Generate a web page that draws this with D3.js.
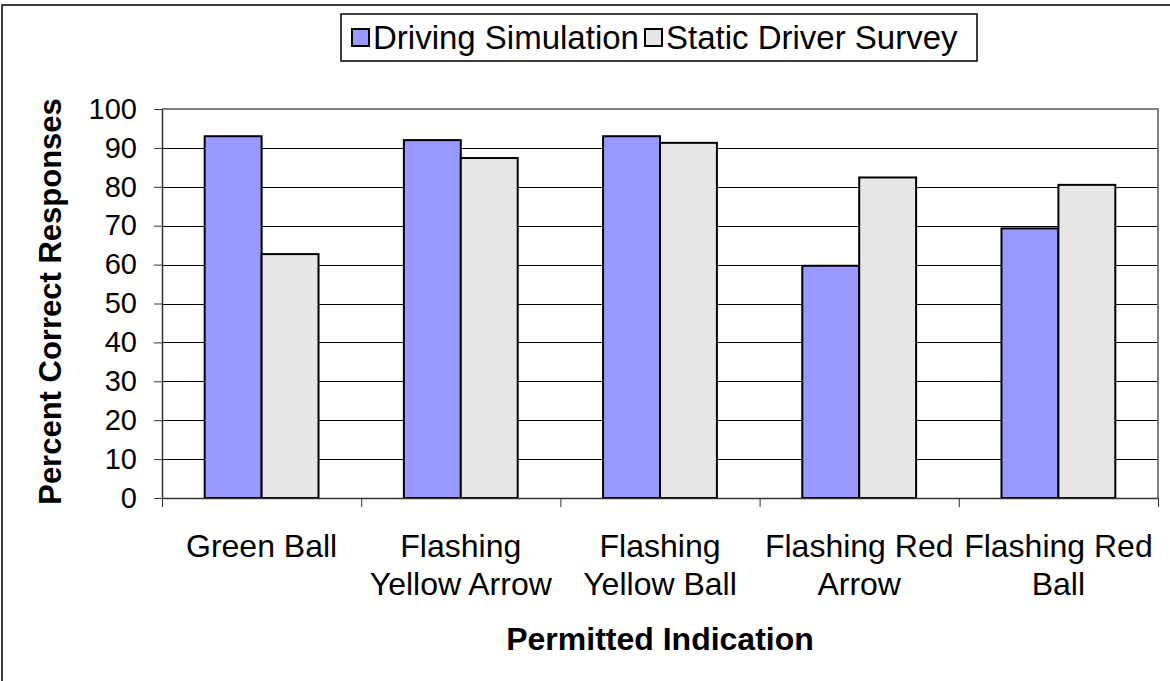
<!DOCTYPE html>
<html>
<head>
<meta charset="utf-8">
<script src="https://cdn.jsdelivr.net/npm/d3@7"></script>
<style>
  html, body { margin: 0; padding: 0; background: #fff; }
  svg { display: block; }
  text { font-family: "Liberation Sans", Arial, sans-serif; fill: #000; }
</style>
</head>
<body>
<svg id="chart" width="1170" height="681"></svg>
<script>
// Percent of correct responses per permitted indication, two study methods
const categories = [
  ["Green Ball"],
  ["Flashing", "Yellow Arrow"],
  ["Flashing", "Yellow Ball"],
  ["Flashing Red", "Arrow"],
  ["Flashing Red", "Ball"]
];
const seriesNames = ["Driving Simulation", "Static Driver Survey"];
const drivingSimulation = [93.0, 92.0, 93.0, 59.7, 69.3];
const staticDriverSurvey = [62.7, 87.4, 91.3, 82.4, 80.5];
const yTicks = [0, 10, 20, 30, 40, 50, 60, 70, 80, 90, 100];
const seriesColors = ["#9999ff", "#e6e6e6"];

const svg = d3.select("#chart");
const W = 1170, H = 681;
const plot = { left: 162, right: 1158, top: 109, bottom: 498 };

// outer chart frame
svg.append("rect")
  .attr("x", 2).attr("y", 5)
  .attr("width", W + 10).attr("height", H + 10)
  .attr("fill", "#fff").attr("stroke", "#000").attr("stroke-width", 1.5);

const catKeys = categories.map((c, i) => i);
const x0 = d3.scaleBand()
  .domain(catKeys)
  .range([plot.left, plot.right])
  .paddingInner(1.5 / 3.5)
  .paddingOuter(1.5 / 3.5 / 2);
const x1 = d3.scaleBand()
  .domain([0, 1])
  .range([0, x0.bandwidth()]);
const y = d3.scaleLinear().domain([0, 100]).range([plot.bottom, plot.top]);
const xEdge = d3.scaleLinear().domain([0, categories.length]).range([plot.left, plot.right]);

// horizontal gridlines
svg.append("g")
  .selectAll("line")
  .data(yTicks.filter(t => t > 0 && t < 100))
  .join("line")
  .attr("x1", plot.left).attr("x2", plot.right)
  .attr("y1", d => Math.round(y(d)) + 0.5).attr("y2", d => Math.round(y(d)) + 0.5)
  .attr("stroke", "#000").attr("stroke-width", 1);

// plot area frame (top and right)
svg.append("path")
  .attr("d", `M${plot.left},${y(100)}H${plot.right}V${plot.bottom}`)
  .attr("fill", "none").attr("stroke", "#808080").attr("stroke-width", 2);

// bars
const rows = categories.map((c, i) => ({ i, values: [drivingSimulation[i], staticDriverSurvey[i]] }));
svg.append("g")
  .selectAll("g")
  .data(rows)
  .join("g")
  .attr("transform", d => `translate(${x0(d.i)},0)`)
  .selectAll("rect")
  .data(d => d.values.map((v, s) => ({ v, s })))
  .join("rect")
  .attr("x", d => x1(d.s))
  .attr("y", d => y(d.v))
  .attr("width", x1.bandwidth())
  .attr("height", d => y(0) - y(d.v))
  .attr("fill", d => seriesColors[d.s])
  .attr("stroke", "#000").attr("stroke-width", 2);

// y axis
const yAxis = svg.append("g")
  .attr("transform", `translate(${plot.left},0)`)
  .call(d3.axisLeft(y).tickValues(yTicks).tickSize(8).tickPadding(17).tickSizeOuter(0));
yAxis.select(".domain").attr("stroke", "#333").attr("stroke-width", 1.5);
yAxis.selectAll(".tick line").attr("stroke", "#333");
yAxis.selectAll(".tick text")
  .attr("font-size", 29).attr("font-family", "Liberation Sans, Arial, sans-serif").attr("fill", "#000");

// x axis with ticks on category boundaries
const xAxis = svg.append("g")
  .attr("transform", `translate(0,${plot.bottom})`)
  .call(d3.axisBottom(xEdge).tickValues(d3.range(categories.length + 1)).tickSize(9).tickFormat("").tickSizeOuter(0));
xAxis.select(".domain").attr("stroke", "#333").attr("stroke-width", 1.5);
xAxis.selectAll(".tick line").attr("stroke", "#333");

// category labels
const catLabels = svg.append("g");
categories.forEach((lines, i) => {
  const t = catLabels.append("text")
    .attr("x", x0(i) + x0.bandwidth() / 2)
    .attr("y", 557)
    .attr("text-anchor", "middle")
    .attr("font-size", 32);
  lines.forEach((ln, k) => {
    t.append("tspan")
      .attr("x", x0(i) + x0.bandwidth() / 2)
      .attr("dy", k === 0 ? 0 : 38)
      .text(ln);
  });
});

// axis titles
svg.append("text")
  .attr("x", (plot.left + plot.right) / 2)
  .attr("y", 650)
  .attr("text-anchor", "middle")
  .attr("font-size", 32).attr("font-weight", "bold")
  .text("Permitted Indication");

svg.append("text")
  .attr("transform", `translate(61,${(plot.top + plot.bottom) / 2 - 2}) rotate(-90)`)
  .attr("text-anchor", "middle")
  .attr("font-size", 31).attr("font-weight", "bold")
  .text("Percent Correct Responses");

// legend
const legend = svg.append("g");
legend.append("rect")
  .attr("x", 341).attr("y", 14).attr("width", 636).attr("height", 47)
  .attr("fill", "#fff").attr("stroke", "#000").attr("stroke-width", 1.5);
const legendItems = [
  { name: seriesNames[0], color: seriesColors[0], x: 352 },
  { name: seriesNames[1], color: seriesColors[1], x: 645 }
];
legendItems.forEach(it => {
  legend.append("rect")
    .attr("x", it.x).attr("y", 29).attr("width", 17).attr("height", 17)
    .attr("fill", it.color).attr("stroke", "#000").attr("stroke-width", 2);
  legend.append("text")
    .attr("x", it.x + 21).attr("y", 49)
    .attr("font-size", 33)
    .text(it.name);
});
</script>
</body>
</html>
